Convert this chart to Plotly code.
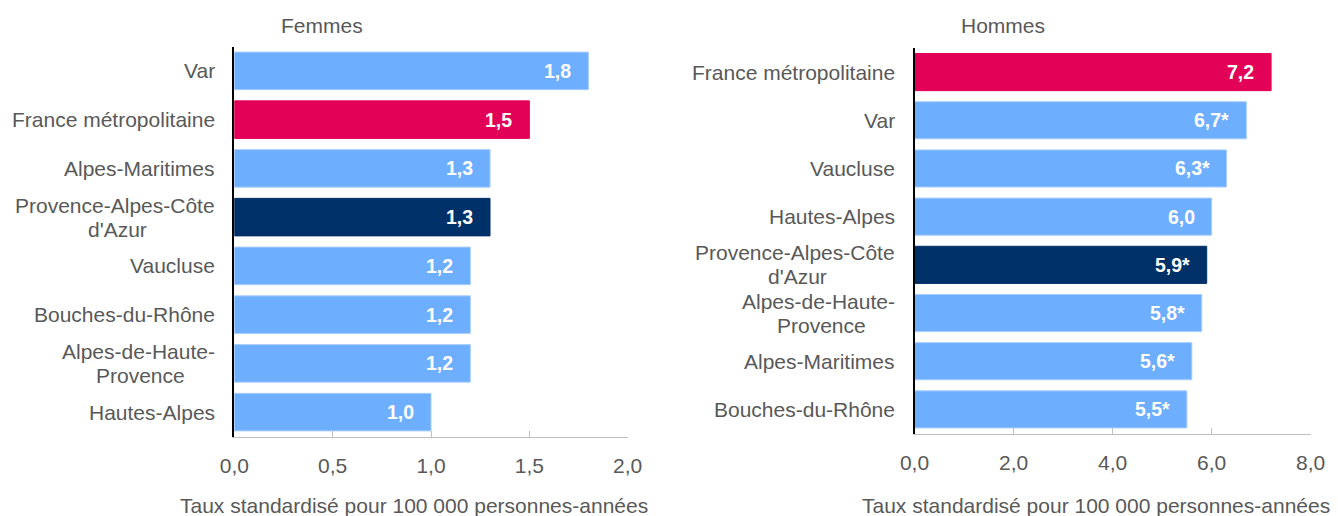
import plotly.graph_objects as go

# ---- data ----
f_categories = ["Var", "France métropolitaine", "Alpes-Maritimes", "Provence-Alpes-Côte d'Azur",
                "Vaucluse", "Bouches-du-Rhône", "Alpes-de-Haute-Provence", "Hautes-Alpes"]
f_values = [1.8, 1.5, 1.3, 1.3, 1.2, 1.2, 1.2, 1.0]
f_signif = ["", "", "", "", "", "", "", ""]

h_categories = ["France métropolitaine", "Var", "Vaucluse", "Hautes-Alpes",
                "Provence-Alpes-Côte d'Azur", "Alpes-de-Haute-Provence", "Alpes-Maritimes", "Bouches-du-Rhône"]
h_values = [7.2, 6.7, 6.3, 6.0, 5.9, 5.8, 5.6, 5.5]
h_signif = ["", "*", "*", "", "*", "*", "*", "*"]

f_ticks = [0.0, 0.5, 1.0, 1.5, 2.0]
h_ticks = [0.0, 2.0, 4.0, 6.0, 8.0]

titles = ["Femmes", "Hommes"]
axis_title = "Taux standardisé pour 100 000 personnes-années"
label_wrap = {"Provence-Alpes-Côte d'Azur": ["Provence-Alpes-Côte", "d'Azur"],
              "Alpes-de-Haute-Provence": ["Alpes-de-Haute-", "Provence"]}

# ---- styles ----
BLUE, PINK, NAVY = "#6daeff", "#e30057", "#003068"
GRAY = "#595959"
FONT = "Liberation Sans, Arial, sans-serif"
LABEL_SIZE = 21
LABEL_GAP = 17
HALF_LINE = 12

# Arial / Liberation Sans advance widths (em) for centring wrapped labels
CHAR_W = {"P": .667, "r": .333, "o": .556, "v": .5, "e": .556, "n": .556, "c": .5, "-": .333,
          "A": .667, "l": .222, "p": .556, "s": .5, "C": .722, "ô": .556, "t": .278, "d": .556,
          "H": .722, "a": .556, "u": .556}


def text_width(s, size):
    return sum(CHAR_W.get(ch, .556) for ch in s) * size


def color_for(cat):
    if cat == "France métropolitaine":
        return PINK
    if cat == "Provence-Alpes-Côte d'Azur":
        return NAVY
    return BLUE


def line_for(cat):
    return "#a8cdff" if color_for(cat) == BLUE else color_for(cat)


def fmt(v, s):
    return f"{v:.1f}".replace(".", ",") + s


fig = go.Figure()
annotations = []
panels = [
    (f_categories, f_values, f_signif, "x", "y"),
    (h_categories, h_values, h_signif, "x2", "y2"),
]
for cats, vals, sig, xa, ya in panels:
    fig.add_trace(go.Bar(
        x=vals, y=cats, orientation="h", xaxis=xa, yaxis=ya,
        marker=dict(color=[color_for(c) for c in cats],
                    line=dict(color=[line_for(c) for c in cats], width=1)),
        width=0.77, showlegend=False, hoverinfo="x+y",
    ))
    for c, v, s in zip(cats, vals, sig):
        annotations.append(dict(
            x=v, y=c, xref=xa, yref=ya, text=fmt(v, s), showarrow=False,
            xanchor="right", yanchor="middle", xshift=-15,
            font=dict(family=FONT, size=19.5, color="white", weight="bold"),
        ))
        lab_font = dict(family=FONT, size=LABEL_SIZE, color=GRAY)
        if c in label_wrap:
            l1, l2 = label_wrap[c]
            w1 = text_width(l1, LABEL_SIZE)
            annotations.append(dict(
                x=0, y=c, xref=f"{xa} domain", yref=ya, text=l1, showarrow=False,
                xanchor="right", yanchor="middle", xshift=-LABEL_GAP, yshift=HALF_LINE,
                font=lab_font))
            annotations.append(dict(
                x=0, y=c, xref=f"{xa} domain", yref=ya, text=l2, showarrow=False,
                xanchor="center", yanchor="middle", xshift=-LABEL_GAP - w1 / 2,
                yshift=-HALF_LINE, font=lab_font))
        else:
            annotations.append(dict(
                x=0, y=c, xref=f"{xa} domain", yref=ya, text=c, showarrow=False,
                xanchor="right", yanchor="middle", xshift=-LABEL_GAP, font=lab_font))

for t, xc in zip(titles, [322 / 1338, 1003 / 1338]):
    annotations.append(dict(x=xc, y=(516 - 26) / 516, xref="paper", yref="paper", text=t,
                            showarrow=False, xanchor="center", yanchor="middle",
                            font=dict(family=FONT, size=21, color=GRAY)))
for xc in [413.5 / 1338, 1096 / 1338]:
    annotations.append(dict(x=xc, y=(516 - 505) / 516, xref="paper", yref="paper", text=axis_title,
                            showarrow=False, xanchor="center", yanchor="middle",
                            font=dict(family=FONT, size=21, color=GRAY)))

xcommon = dict(showgrid=False, zeroline=False, showline=True, linecolor="#bfbfbf", linewidth=1,
               ticks="inside", ticklen=6, tickcolor="#bfbfbf", tickwidth=1, tickformat=".1f",
               tickfont=dict(family=FONT, size=21, color=GRAY), ticklabelstandoff=10,
               automargin=False)
ycommon = dict(showgrid=False, zeroline=False, showline=True, linecolor="black", linewidth=2,
               showticklabels=False, ticks="", range=[7.5, -0.5], automargin=False)

fig.update_layout(
    width=1338, height=516, margin=dict(l=0, r=0, t=0, b=0, pad=0, autoexpand=False),
    paper_bgcolor="white", plot_bgcolor="white",
    separators=", ", bargap=0.23,
    font=dict(family=FONT, color=GRAY),
    xaxis=dict(domain=[234.3 / 1338, 627.7 / 1338], range=[0, 2], tickvals=f_ticks,
               anchor="y", **xcommon),
    yaxis=dict(domain=[(516 - 436.5) / 516, (516 - 46.5) / 516], anchor="x", **ycommon),
    xaxis2=dict(domain=[914.5 / 1338, 1310.7 / 1338], range=[0, 8], tickvals=h_ticks,
                anchor="y2", **xcommon),
    yaxis2=dict(domain=[(516 - 433.5) / 516, (516 - 48) / 516], anchor="x2", **ycommon),
    annotations=annotations,
)

fig.write_html("out.html", config={"displayModeBar": False},
               post_script="document.body.style.margin='0';document.body.style.overflow='hidden';")
